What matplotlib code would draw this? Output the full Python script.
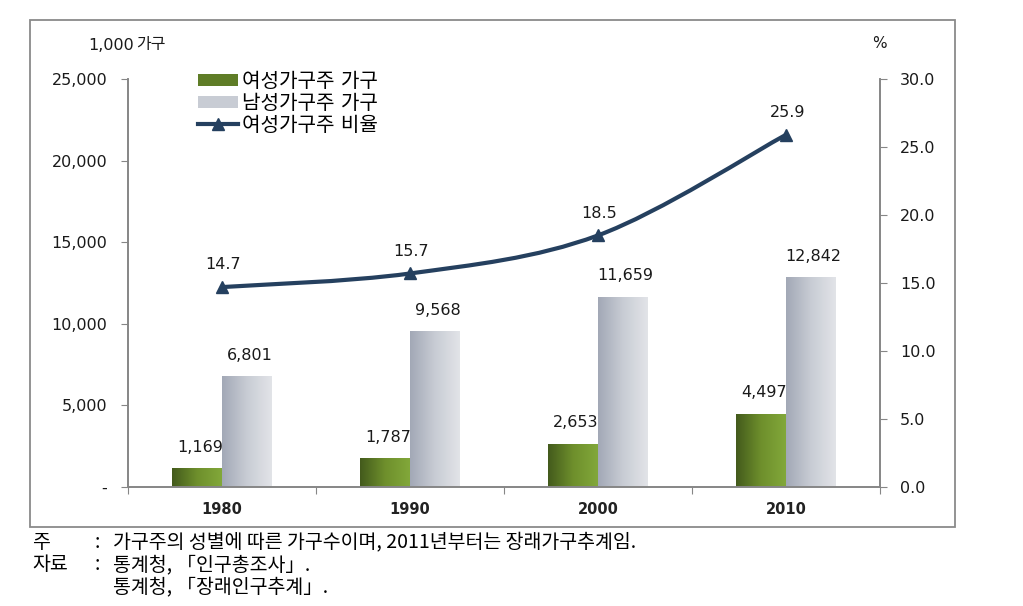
import matplotlib
matplotlib.use("Agg")
import matplotlib.pyplot as plt
import numpy as np
from matplotlib.path import Path
from matplotlib.patches import PathPatch, Rectangle, Patch
from matplotlib.lines import Line2D
from matplotlib.colors import LinearSegmentedColormap

plt.rcParams['font.family'] = ['DejaVu Sans', 'Noto Sans CJK KR']

# data
years = ['1980', '1990', '2000', '2010']
female_hh = [1169, 1787, 2653, 4497]
male_hh = [6801, 9568, 11659, 12842]
female_ratio = [14.7, 15.7, 18.5, 25.9]

labels = ['여성가구주 가구', '남성가구주 가구', '여성가구주 비율']

green_cmap = LinearSegmentedColormap.from_list('g', ['#435a1c', '#6e8f2c', '#82a83a'])
gray_cmap = LinearSegmentedColormap.from_list('s', ['#a2a8b6', '#c8ccd4', '#e2e4e8'])
navy = '#25405f'
spine_c = '#868686'

fig = plt.figure(figsize=(10.23, 6.06), dpi=100)
ax = fig.add_axes([128/1023, 1-487/606, (880-128)/1023, (487-79)/606])
ax2 = ax.twinx()

x = np.arange(len(years))
w = 0.265
bars_f = ax.bar(x - w/2, female_hh, w, color='none', edgecolor='none')
bars_m = ax.bar(x + w/2, male_hh, w, color='none', edgecolor='none')

# gradient fill of bars
grad = np.linspace(0, 1, 256).reshape(1, -1)
for bars, cm in ((bars_f, green_cmap), (bars_m, gray_cmap)):
    for b in bars:
        x0, y0 = b.get_x(), b.get_y()
        im = ax.imshow(grad, extent=[x0, x0 + b.get_width(), y0, y0 + b.get_height()],
                       aspect='auto', cmap=cm, zorder=2)
        im.set_clip_path(b)

for bars, vals in ((bars_f, female_hh), (bars_m, male_hh)):
    for b, v in zip(bars, vals):
        ax.annotate(f'{v:,}', (b.get_x() + b.get_width()/2, b.get_height()),
                    xytext=(2, 15), textcoords='offset points', ha='center', va='center',
                    fontsize=11.5, color='#1a1a1a')

ax.set_xlim(-0.5, len(years) - 0.5)
ax.set_ylim(0, 25000)
ax2.set_ylim(0, 30)

# smoothed ratio line (cubic bezier through the points)
px = x.astype(float)
py = np.array(female_ratio)
verts = [(px[0], py[0])]
codes = [Path.MOVETO]
for i in range(len(px) - 1):
    p0 = (px[max(i-1, 0)], py[max(i-1, 0)])
    p1 = (px[i], py[i])
    p2 = (px[i+1], py[i+1])
    p3 = (px[min(i+2, len(px)-1)], py[min(i+2, len(px)-1)])
    c1 = (p1[0] + (p2[0]-p0[0])/6, p1[1] + (p2[1]-p0[1])/6)
    c2 = (p2[0] - (p3[0]-p1[0])/6, p2[1] - (p3[1]-p1[1])/6)
    verts += [c1, c2, p2]
    codes += [Path.CURVE4] * 3
ax2.add_patch(PathPatch(Path(verts, codes), facecolor='none', edgecolor=navy, lw=3, zorder=3))
ax2.plot(px, py, ls='none', marker='^', ms=9, color=navy, zorder=4)
for xi, v in zip(px, female_ratio):
    ax2.annotate(f'{v:.1f}', (xi, v), xytext=(1, 16), textcoords='offset points',
                 ha='center', va='center', fontsize=11.5, color='#1a1a1a')

# axes styling
ax.set_yticks(range(0, 25001, 5000))
ax.set_yticklabels(['-'] + [f'{v:,}' for v in range(5000, 25001, 5000)])
ax2.set_yticks(range(0, 31, 5))
ax2.set_yticklabels([f'{v:.1f}' for v in range(0, 31, 5)])
ax.set_xticks(np.arange(-0.5, len(years)), minor=False)
ax.set_xticklabels([])
ax.set_xticks(x, minor=True)
ax.set_xticklabels(years, minor=True, fontsize=10.5, fontweight='bold', color='#222222')
ax.tick_params(axis='x', which='minor', length=0, pad=11)
ax.tick_params(axis='x', which='major', length=5, color=spine_c)
ax.tick_params(axis='y', length=5, color=spine_c, pad=10, labelsize=11.5, labelcolor='#1a1a1a')
ax2.tick_params(axis='y', length=5, color=spine_c, pad=9.5, labelsize=11.5, labelcolor='#1a1a1a')
for a in (ax, ax2):
    a.spines['top'].set_visible(False)
    for s in ('left', 'right', 'bottom'):
        a.spines[s].set_color(spine_c)
        a.spines[s].set_linewidth(1.2)
ax.set_zorder(ax2.get_zorder() - 1)
ax2.patch.set_visible(False)

# legend
handles = [Patch(facecolor='#5f7d27'), Patch(facecolor='#c8ccd4'),
           Line2D([], [], color=navy, lw=3, marker='^', ms=8)]
ax2.legend(handles, labels, loc='upper left', bbox_to_anchor=(188/1023, 1-62/606),
           bbox_transform=fig.transFigure, frameon=False, fontsize=14.5,
           handlelength=2.0, handleheight=0.6, handletextpad=0.2, labelspacing=0.15,
           borderpad=0)

# unit labels
fig.text(88/1023, 1-45/606, '1,000', fontsize=11.5, va='center', color='#1a1a1a')
fig.text(136/1023, 1-45/606, '가구', fontsize=11.5, va='center', color='#1a1a1a')
fig.text(879/1023, 1-44/606, '%', fontsize=11, va='center', ha='center', color='#1a1a1a')

# outer frame
fig.patches.append(Rectangle((30/1023, 1-527/606), (955-30)/1023, (527-20)/606,
                             transform=fig.transFigure, fill=False, edgecolor='#8a8a8a', lw=1.3))

# footnotes
notes = [('주', '가구주의 성별에 따른 가구수이며, 2011년부터는 장래가구추계임.', 543),
         ('자료', '통계청, 「인구총조사」.', 565),
         ('', '통계청, 「장래인구추계」.', 588)]
for head, body, yy in notes:
    if head:
        fig.text(32/1023, 1-yy/606, head, fontsize=14, va='center', family='Noto Sans CJK KR')
        fig.text(95/1023, 1-yy/606, ':', fontsize=14, va='center', family='Noto Sans CJK KR')
    fig.text(113/1023, 1-yy/606, body, fontsize=14, va='center', family='Noto Sans CJK KR')

fig.savefig('out.png', dpi=100)
